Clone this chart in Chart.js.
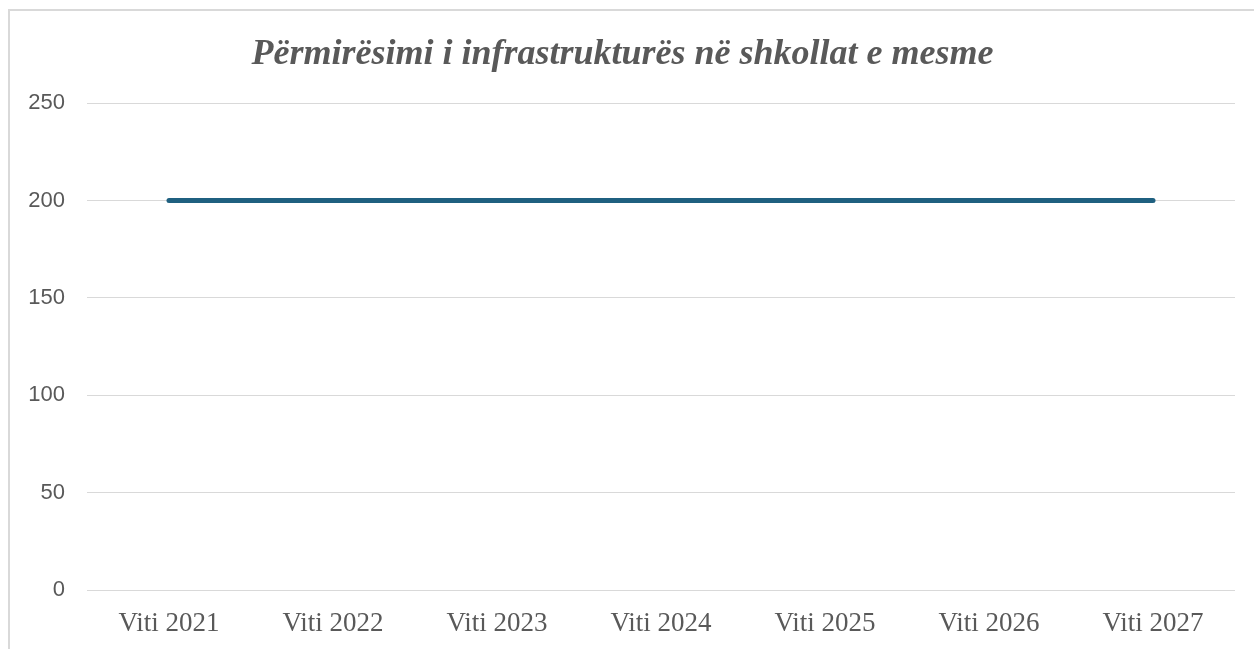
<!DOCTYPE html>
<html>
<head>
<meta charset="utf-8">
<script src="https://cdn.jsdelivr.net/npm/chart.js"></script>
<style>
  html, body { margin: 0; padding: 0; background: #fff; overflow: hidden; }
  #frame { position: absolute; left: 8px; top: 9px; width: 1300px; height: 700px; border: 2px solid #d9d9d9; box-sizing: border-box; }
  #wrap { position: absolute; left: 0; top: 0; width: 1254px; height: 649px; }
</style>
</head>
<body>
<div id="frame"></div>
<div id="wrap"><canvas id="myChart"></canvas></div>
<script>
var titleText = 'Përmirësimi i infrastrukturës në shkollat e mesme';
var years = ['Viti 2021', 'Viti 2022', 'Viti 2023', 'Viti 2024', 'Viti 2025', 'Viti 2026', 'Viti 2027'];
var values = [200, 200, 200, 200, 200, 200, 200];
var yTicks = [0, 50, 100, 150, 200, 250];

document.addEventListener('DOMContentLoaded', function() {
  var ctx = document.getElementById('myChart').getContext('2d');
  var chart = new Chart(ctx, {
    type: 'line',
    data: {
      labels: years,
      datasets: [{
        label: 'Seria 1',
        data: values,
        borderColor: 'rgb(31, 96, 128)',
        backgroundColor: 'rgb(31, 96, 128)',
        borderWidth: 5,
        borderCapStyle: 'round',
        pointRadius: 0,
        tension: 0
      }]
    },
    options: {
      responsive: true,
      maintainAspectRatio: false,
      animation: false,
      layout: { padding: { top: 33, right: 19, left: 10, bottom: 0 } },
      plugins: {
        legend: { display: false },
        tooltip: { enabled: false },
        title: {
          display: true,
          text: titleText,
          color: '#595959',
          font: { family: '"Liberation Serif", "Times New Roman", serif', size: 36, style: 'italic', weight: 'bold' },
          padding: { top: 0, bottom: 27 }
        }
      },
      scales: {
        x: {
          offset: true,
          grid: { display: false, drawTicks: false },
          border: { display: false },
          ticks: {
            color: '#595959',
            padding: 18,
            maxRotation: 0,
            font: { family: '"Liberation Serif", "Times New Roman", serif', size: 27 }
          },
          afterFit: function(scale) { scale.height = 59; }
        },
        y: {
          min: 0,
          max: 250,
          afterBuildTicks: function(scale) {
            scale.ticks = yTicks.map(function(v) { return { value: v }; });
          },
          grid: { color: '#d9d9d9', lineWidth: 1, drawTicks: false },
          border: { display: false },
          ticks: {
            color: '#595959',
            padding: 22,
            font: { family: '"Liberation Sans", Arial, sans-serif', size: 22 }
          },
          afterFit: function(scale) { scale.width = 77; }
        }
      }
    }
  });
});
</script>
</body>
</html>
